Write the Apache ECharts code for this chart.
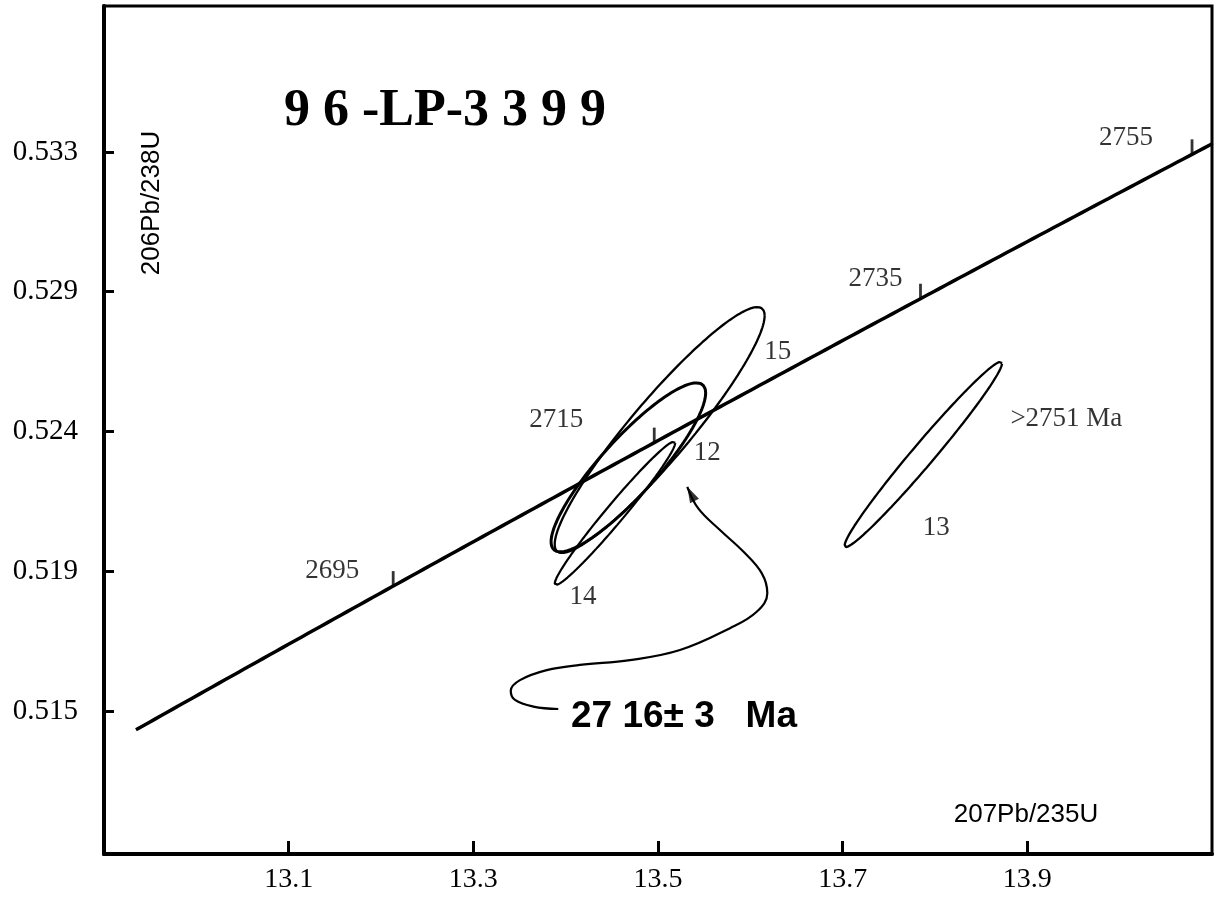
<!DOCTYPE html>
<html><head><meta charset="utf-8">
<script src="https://cdn.jsdelivr.net/npm/echarts@6/dist/echarts.min.js"></script>
<style>html,body{margin:0;padding:0;background:#fff}#c{width:1220px;height:899px}</style>
</head><body><div id="c"></div>
<script>
// ---- axis ranges and ticks ----
const xRange = [12.9, 14.1];
const yRange = [0.5102, 0.5381];
const xTickValues = [13.1, 13.3, 13.5, 13.7, 13.9];
const xTickLabels = ['13.1', '13.3', '13.5', '13.7', '13.9'];
const yTickValues = [0.5149, 0.5195, 0.5241, 0.5287, 0.5333];
const yTickLabels = ['0.515', '0.519', '0.524', '0.529', '0.533'];

// ---- concordia (Ma) ----
const concordiaAgeRange = [2674.9, 2756.5];
const ageTicks = [2695, 2715, 2735, 2755];
const ageTickLabels = ['2695', '2715', '2735', '2755'];

// ---- error ellipses: centre, half-extent (x,y), correlation ----
const ellipseNames = ['15', '12', '14', '13'];
const ellipseX = [13.5018, 13.4679, 13.4534, 13.7874];
const ellipseY = [0.52415, 0.52292, 0.52141, 0.52335];
const ellipseErrX = [0.1137, 0.0837, 0.0653, 0.0853];
const ellipseErrY = [0.004044, 0.00278, 0.002363, 0.003051];
const ellipseRho = [0.930, 0.880, 0.980, 0.983];

// ---- annotation arrow path (data units) ----
const arrowX = [13.3920, 13.3650, 13.3451, 13.3405, 13.3505, 13.3795, 13.4155, 13.4697, 13.5238, 13.5780, 13.6069, 13.6184, 13.6123, 13.5924, 13.5671, 13.5436, 13.5317];
const arrowY = [0.51497, 0.51505, 0.51527, 0.51557, 0.51592, 0.51625, 0.51642, 0.51658, 0.51691, 0.51763, 0.51817, 0.51878, 0.51944, 0.52015, 0.52086, 0.52157, 0.52228];

// ---- texts ----
const titleText = '9 6 -LP-3 3 9 9';
const ageResultText = '27 16\u00b1 3   Ma';
const xName = '207Pb/235U';
const yName = '206Pb/238U';
const extraLabel = '>2751 Ma';

// ---- layout (pixel offsets for labels), kept apart from data ----
const ageLabelOffsets = [[-61, -8], [-98, -15], [-45, -12], [-66, -9]];
const ellipseLabelOffsets = [[118, -78], [79, -14], [-32, 84], [13, 74]];
const extraLabelOffset = [143, -35];

const L238 = 1.55125e-10, L235 = 9.8485e-10;
function concordia(tMa) {
  const t = tMa * 1e6;
  return [Math.exp(L235 * t) - 1, Math.exp(L238 * t) - 1];
}
const concordiaPts = [];
for (let t = concordiaAgeRange[0]; t <= concordiaAgeRange[1] + 1e-9; t += 0.5) concordiaPts.push(concordia(t));
concordiaPts.push(concordia(concordiaAgeRange[1]));

function ellipsePts(i) {
  const pts = [];
  const s = Math.sqrt(1 - ellipseRho[i] * ellipseRho[i]);
  for (let k = 0; k <= 180; k++) {
    const a = k / 180 * Math.PI * 2;
    pts.push([ellipseX[i] + ellipseErrX[i] * Math.cos(a),
              ellipseY[i] + ellipseErrY[i] * (ellipseRho[i] * Math.cos(a) + s * Math.sin(a))]);
  }
  return pts;
}

const serif = 'Liberation Serif, Times New Roman, serif';
const sans = 'Liberation Sans, Arial, Helvetica, sans-serif';
const ellipseWidths = [2.3, 3, 2.2, 2.3];

const series = [];
series.push({
  id: 'concordia', type: 'line', data: concordiaPts, showSymbol: false, silent: true,
  lineStyle: { color: '#000', width: 3.5 }, z: 3
});
series.push({
  id: 'ageTicks', type: 'scatter', silent: true, symbol: 'rect', symbolSize: [2.8, 15], symbolOffset: [0, '-50%'],
  itemStyle: { color: '#000' }, z: 4,
  data: ageTicks.map((a, i) => ({
    value: concordia(a), name: ageTickLabels[i],
    label: { show: true, position: 'inside', offset: ageLabelOffsets[i], formatter: ageTickLabels[i],
      color: '#000', fontFamily: serif, fontSize: 27 }
  }))
});
ellipseNames.forEach((n, i) => {
  series.push({
    id: 'ell' + n, type: 'line', data: ellipsePts(i), showSymbol: false, silent: true,
    lineStyle: { color: '#000', width: ellipseWidths[i] }, z: 5
  });
});
const labelData = ellipseNames.map((n, i) => ({
  value: [ellipseX[i], ellipseY[i]],
  label: { show: true, position: 'inside', offset: ellipseLabelOffsets[i], formatter: n,
    color: '#000', fontFamily: serif, fontSize: 27 }
}));
labelData.push({
  value: [ellipseX[3], ellipseY[3]],
  label: { show: true, position: 'inside', offset: extraLabelOffset, formatter: extraLabel,
    color: '#000', fontFamily: serif, fontSize: 27 }
});
series.push({
  id: 'ellLabels', type: 'scatter', silent: true, symbolSize: 1,
  itemStyle: { color: 'rgba(0,0,0,0)' }, data: labelData, z: 6
});
series.push({
  id: 'arrow', type: 'line', data: arrowX.map((x, i) => [x, arrowY[i]]), smooth: 0.4,
  showSymbol: false, silent: true, lineStyle: { color: '#000', width: 2.2 }, z: 6
});
series.push({
  id: 'head', type: 'scatter', silent: true, symbol: 'triangle', symbolSize: [10, 16],
  itemStyle: { color: '#000' }, data: [[arrowX[arrowX.length - 1], arrowY[arrowY.length - 1]]], z: 7
});

function lookup(vals, labels) {
  return function (v) {
    for (let i = 0; i < vals.length; i++) if (Math.abs(v - vals[i]) < 1e-7) return labels[i];
    return '';
  };
}

const option = {
  animation: false,
  backgroundColor: '#fff',
  grid: { left: 104, right: 8, top: 6, bottom: 45, show: true, borderColor: '#000', borderWidth: 3, containLabel: false },
  xAxis: {
    type: 'value', min: xRange[0], max: xRange[1],
    axisLine: { onZero: false, lineStyle: { color: '#000', width: 4 } },
    axisTick: { inside: true, length: 13, customValues: xTickValues, lineStyle: { color: '#000', width: 3 } },
    axisLabel: { customValues: xTickValues, formatter: lookup(xTickValues, xTickLabels), margin: 12,
      color: '#000', fontFamily: serif, fontSize: 28 },
    splitLine: { show: false }
  },
  yAxis: {
    type: 'value', min: yRange[0], max: yRange[1],
    axisLine: { onZero: false, lineStyle: { color: '#000', width: 4 } },
    axisTick: { inside: true, length: 10, customValues: yTickValues, lineStyle: { color: '#000', width: 3 } },
    axisLabel: { customValues: yTickValues, formatter: lookup(yTickValues, yTickLabels), margin: 26,
      color: '#000', fontFamily: serif, fontSize: 29 },
    splitLine: { show: false }
  },
  graphic: [
    { type: 'text', x: 445, y: 112, silent: true,
      style: { text: titleText, font: 'bold 52px ' + serif, fill: '#000', align: 'center', verticalAlign: 'middle', textAlign: 'center', textVerticalAlign: 'middle' } },
    { type: 'text', x: 152, y: 203, rotation: Math.PI / 2, silent: true,
      style: { text: yName, font: '26px ' + sans, fill: '#000', align: 'center', verticalAlign: 'middle', textAlign: 'center', textVerticalAlign: 'middle' } },
    { type: 'text', x: 1026, y: 815, silent: true,
      style: { text: xName, font: '26px ' + sans, fill: '#000', align: 'center', verticalAlign: 'middle', textAlign: 'center', textVerticalAlign: 'middle' } },
    { type: 'text', x: 571, y: 717, silent: true,
      style: { text: ageResultText, font: 'bold 37px ' + sans, fill: '#000', align: 'left', verticalAlign: 'middle', textAlign: 'left', textVerticalAlign: 'middle' } }
  ],
  series: series
};

const chart = echarts.init(document.getElementById('c'), null, { renderer: 'canvas' });
chart.setOption(option);
const n = arrowX.length;
const p1 = chart.convertToPixel({ gridIndex: 0 }, [arrowX[n - 2], arrowY[n - 2]]);
const p2 = chart.convertToPixel({ gridIndex: 0 }, [arrowX[n - 1], arrowY[n - 1]]);
const dx = p2[0] - p1[0], dy = p2[1] - p1[1];
const len = Math.hypot(dx, dy);
const H = 16;
const rot = -90 - Math.atan2(dy, dx) * 180 / Math.PI;
chart.setOption({ series: [{ id: 'head', symbolRotate: rot, symbolOffset: [-dx / len * H / 2, -dy / len * H / 2] }] });
</script>
</body></html>
